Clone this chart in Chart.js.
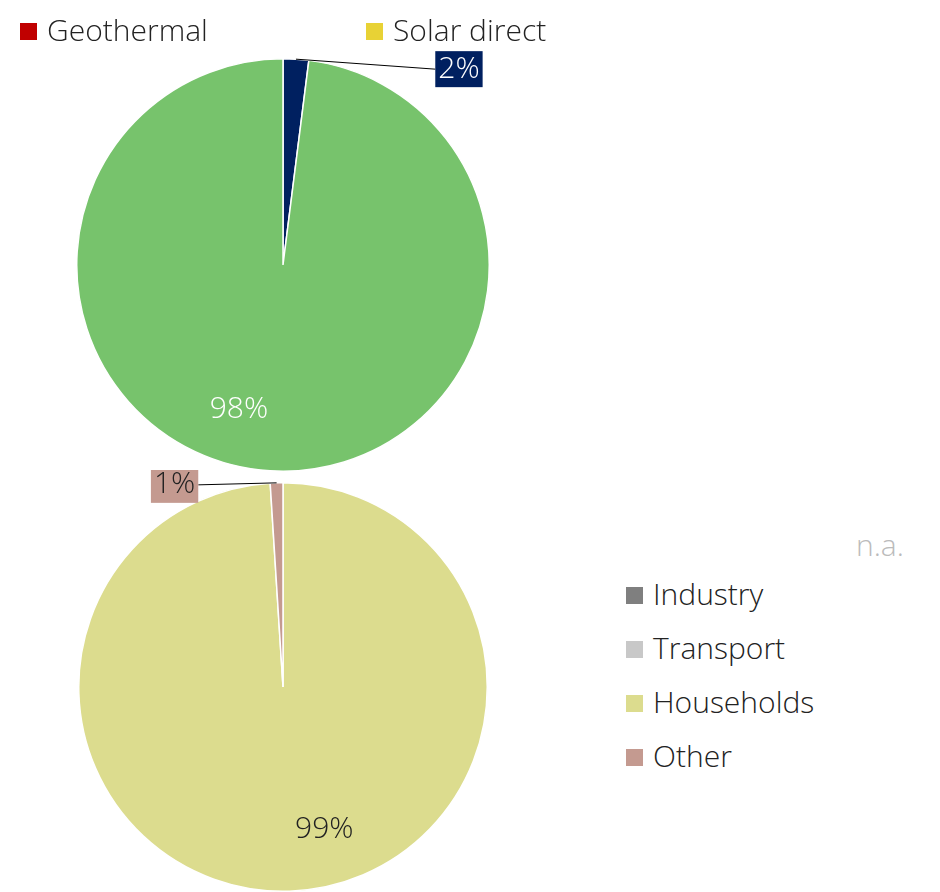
<!DOCTYPE html>
<html><head><meta charset="utf-8">
<script src="https://cdn.jsdelivr.net/npm/chart.js@4"></script>
<style>
body{margin:0;background:#fff;font-family:"Open Sans",sans-serif;font-weight:300;}
#wrap{position:relative;width:940px;height:892px;overflow:hidden;}
canvas{position:absolute;left:0;}
.lg{position:absolute;font-size:30px;color:#222;white-space:nowrap;line-height:30px;}
.lg i{display:inline-block;width:17px;height:17px;margin-right:10px;vertical-align:1px;}
</style></head><body>
<div id="wrap">
<canvas id="c1" style="top:0"></canvas>
<canvas id="c2" style="top:470px"></canvas>
<div class="lg" style="left:20px;top:15px"><i style="background:#c00000"></i>Geothermal</div>
<div class="lg" style="left:366px;top:15px"><i style="background:#e8d235"></i>Solar direct</div>
<div class="lg" style="left:856px;top:530px;color:#bbb">n.a.</div>
<div id="lg2"></div>
</div>
<script>
// top pie: supply
const topLabels = ['Solar thermal', 'Biomass'];
const topValues = [2, 98];
const topColors = ['#002060', '#77c36c'];
// bottom pie: consumption
const botLabels = ['Industry', 'Transport', 'Households', 'Other'];
const botValues = [0, 0, 99, 1];
const botColors = ['#7f7f7f', '#c8c8c8', '#dcdc8e', '#c49a90'];

// legend for bottom pie
const lg2 = document.getElementById('lg2');
botLabels.forEach((l, i) => {
  const d = document.createElement('div');
  d.className = 'lg';
  d.style.left = '626px';
  d.style.top = (579 + i * 54) + 'px';
  d.innerHTML = '<i style="background:' + botColors[i] + '"></i>' + l;
  lg2.appendChild(d);
});

// labels: big slices inside, small ones outside with a leader line
const pctLabels = {
  id: 'pctLabels',
  afterDraw(chart, args, opts) {
    const ctx = chart.ctx;
    const meta = chart.getDatasetMeta(0);
    const vals = chart.data.datasets[0].data;
    ctx.save();
    ctx.font = '300 30px "Open Sans"';
    ctx.textAlign = 'center';
    ctx.textBaseline = 'middle';
    meta.data.forEach((arc, i) => {
      const v = vals[i];
      if (!v) return;
      const mid = (arc.startAngle + arc.endAngle) / 2;
      const r = arc.outerRadius;
      const txt = v + '%';
      if (v > 50) {
        const x = arc.x + Math.cos(mid) * r * 0.7 + opts.shift * r;
        const y = arc.y + Math.sin(mid) * r * 0.7;
        ctx.fillStyle = opts.inColor;
        ctx.fillText(txt, x, y);
      } else {
        const sx = arc.x + Math.cos(mid) * r;
        const sy = arc.y + Math.sin(mid) * r;
        const tx = sx + opts.dx, ty = sy + opts.dy;
        const w = ctx.measureText(txt).width + 6;
        ctx.strokeStyle = '#000';
        ctx.lineWidth = 1;
        ctx.beginPath();
        ctx.moveTo(sx, sy);
        ctx.lineTo(tx + (opts.dx > 0 ? -w / 2 : w / 2), ty);
        ctx.stroke();
        ctx.fillStyle = chart.data.datasets[0].backgroundColor[i];
        ctx.fillRect(tx - w / 2, ty - 18, w, 36);
        ctx.fillStyle = opts.outColor;
        ctx.fillText(txt, tx, ty);
      }
    });
    ctx.restore();
  }
};

function pie(id, w, h, pad, labels, values, colors, lab) {
  const c = document.getElementById(id);
  c.width = w; c.height = h;
  c.style.width = w + 'px'; c.style.height = h + 'px';
  return new Chart(c, {
    type: 'pie',
    data: { labels: labels, datasets: [{ data: values, backgroundColor: colors, borderColor: '#fff', borderWidth: 1.5 }] },
    options: {
      responsive: false, animation: false,
      layout: { padding: pad },
      plugins: { legend: { display: false }, tooltip: { enabled: false }, pctLabels: lab }
    },
    plugins: [pctLabels]
  });
}

pie('c1', 566, 472, { top: 58, bottom: 0 }, topLabels, topValues, topColors,
  { shift: -0.17, inColor: '#fff', outColor: '#fff', dx: 163, dy: 10 });
pie('c2', 566, 422, { top: 12, bottom: 0 }, botLabels, botValues, botColors,
  { shift: 0.18, inColor: '#222', outColor: '#222', dx: -102, dy: 2 });
</script>
</body></html>
